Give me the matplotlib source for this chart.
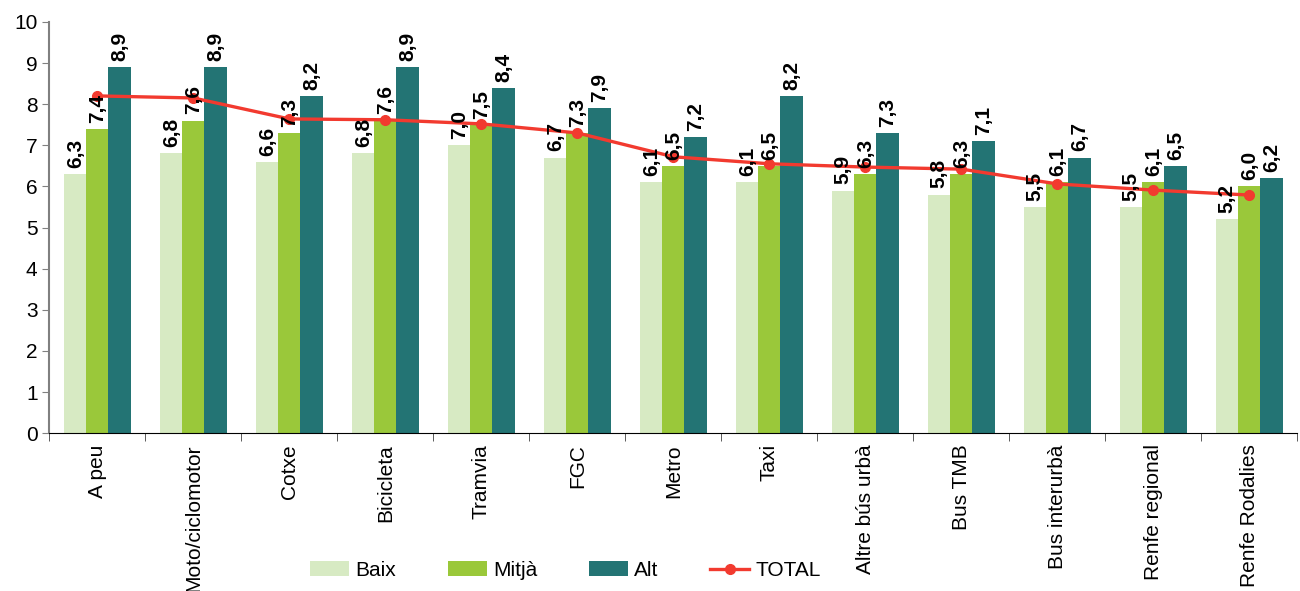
import matplotlib
matplotlib.use("Agg")
import matplotlib.pyplot as plt
import numpy as np

categories = ["A peu", "Moto/ciclomotor", "Cotxe", "Bicicleta", "Tramvia", "FGC",
              "Metro", "Taxi", "Altre bús urbà", "Bus TMB", "Bus interurbà",
              "Renfe regional", "Renfe Rodalies"]
baix = [6.3, 6.8, 6.6, 6.8, 7.0, 6.7, 6.1, 6.1, 5.9, 5.8, 5.5, 5.5, 5.2]
mitja = [7.4, 7.6, 7.3, 7.6, 7.5, 7.3, 6.5, 6.5, 6.3, 6.3, 6.1, 6.1, 6.0]
alt = [8.9, 8.9, 8.2, 8.9, 8.4, 7.9, 7.2, 8.2, 7.3, 7.1, 6.7, 6.5, 6.2]
total = [8.2, 8.15, 7.64, 7.62, 7.52, 7.3, 6.72, 6.55, 6.47, 6.42, 6.06, 5.91, 5.79]

plt.rcParams["font.family"] = ["Liberation Sans", "DejaVu Sans"]

fig = plt.figure(figsize=(13, 5.91), dpi=100)
ax = fig.add_axes([0.038, 0.267, 0.960, 0.696])

x = np.arange(len(categories))
w = 0.23
series = [(baix, "Baix", "#d7eac3"), (mitja, "Mitjà", "#9ac83a"), (alt, "Alt", "#237474")]
handles = []
for i, (vals, lbl, col) in enumerate(series):
    pos = x + (i - 1) * w
    h = ax.bar(pos, vals, width=w, color=col, label=lbl, zorder=2)
    handles.append(h)
    for px, v in zip(pos, vals):
        ax.text(px, v + 0.15, f"{v:.1f}".replace(".", ","), rotation=90,
                ha="center", va="bottom", fontsize=15, fontweight="bold", zorder=4)

ln, = ax.plot(x, total, color="#f23a2f", linewidth=2.4, marker="o", markersize=7,
              label="TOTAL", zorder=3)
handles.append(ln)

ax.set_xlim(-0.5, len(categories) - 0.5)
ax.set_ylim(0, 10)
ax.set_yticks(range(0, 11))
ax.tick_params(axis="y", labelsize=15, length=5, color="#808080")
ax.set_xticks(x)
ax.set_xticklabels(categories, rotation=90, fontsize=15)
ax.tick_params(axis="x", length=0, pad=8)
ax.set_xticks(np.arange(-0.5, len(categories)), minor=True)
ax.tick_params(axis="x", which="minor", length=6, color="#404040")

ax.spines["top"].set_visible(False)
ax.spines["right"].set_visible(False)
ax.spines["left"].set_color("#808080")
ax.spines["left"].set_linewidth(1.5)
ax.spines["bottom"].set_color("black")

fig.legend(handles=handles, labels=[h.get_label() for h in handles],
           loc="center", bbox_to_anchor=(0.435, 0.035), ncol=4, frameon=False,
           fontsize=15, handlelength=1.85, columnspacing=2.5, handletextpad=0.3)

fig.savefig("out.png", dpi=100)
